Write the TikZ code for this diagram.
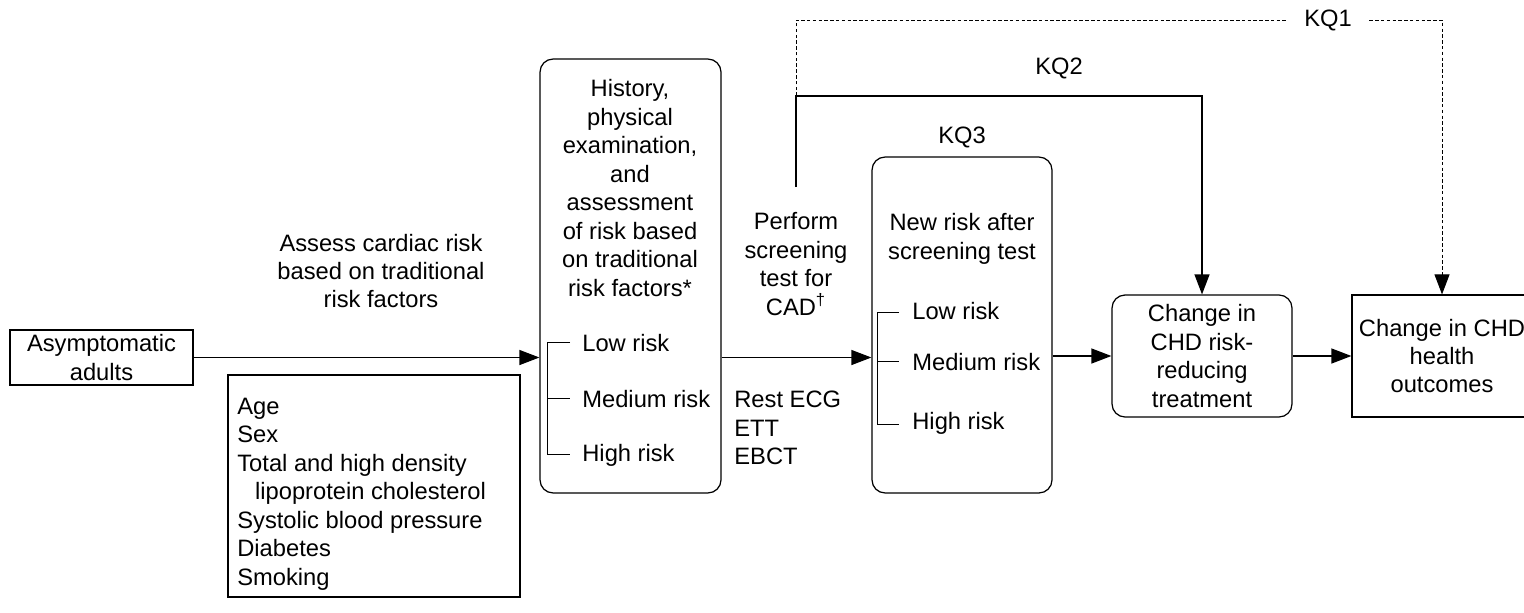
\documentclass[tikz,border=0pt]{standalone}
\usepackage{fontspec}
\setmainfont{Liberation Sans}
\usetikzlibrary{arrows.meta}

\begin{document}
\begin{tikzpicture}[x=0.02cm,y=-0.02cm,
  bx/.style={draw,line width=0.7pt,inner sep=0pt,align=center,font=\fontsize{13.5}{16.2}\selectfont},
  rb/.style={bx,rounded corners=0.26cm},
  tx/.style={align=center,inner sep=0pt,font=\fontsize{13.5}{16.2}\selectfont},
  tl/.style={tx,align=left,anchor=west},
  ar/.style={-{Triangle[length=0.4cm,width=0.3cm]},line width=0.7pt},
  br/.style={line width=0.5pt}]
\clip (0,0) rectangle (1524,612);
% boxes
\node[bx,minimum width=3.66cm,minimum height=1.1cm] (asy) at (101.5,357.5) {Asymptomatic\\adults};
\node[bx,minimum width=5.84cm,minimum height=4.44cm] (rf) at (374,486) {};
\node[tl] (rft) at (237,494) {Age\\Sex\\Total and high density\\\hspace*{0.75em}lipoprotein cholesterol\\Systolic blood pressure\\Diabetes\\Smoking};
\node[rb,minimum width=3.62cm,minimum height=8.68cm] (bx2) at (630.5,276) {};
\node[tx] (hst) at (630,188) {History,\\physical\\examination,\\and\\assessment\\of risk based\\on traditional\\risk factors*};
\node[tl] (lo1) at (582,343) {Low risk};
\node[tl] (md1) at (582,399) {Medium risk};
\node[tl] (hi1) at (582,455) {High risk};
\node[rb,minimum width=3.6cm,minimum height=6.72cm] (bx3) at (962,325) {};
\node[tx] (nrs) at (962,239) {New risk after\\screening test};
\node[tl] (lo2) at (912,311) {Low risk};
\node[tl] (md2) at (912,362) {Medium risk};
\node[tl] (hi2) at (912,423) {High risk};
\node[rb,minimum width=3.6cm,minimum height=2.44cm] (chg) at (1202,356) {Change in\\CHD risk-\\reducing\\treatment};
\node[bx,minimum width=3.6cm,minimum height=2.44cm] (out) at (1442,356) {Change in CHD\\health\\outcomes};
% brackets
\draw[br] (570,342) -| (547,454) -- (570,454); \draw[br] (547,398) -- (570,398);
\draw[br] (899,312) -| (877,424) -- (899,424); \draw[br] (877,361) -- (899,361);
% labels
\node[tx] (asl) at (381,271) {Assess cardiac risk\\based on traditional\\risk factors};
\node[tx] (pst) at (796,264) {Perform\\screening\\test for\\CAD\textsuperscript{†}};
\node[tl] (tst) at (734,428) {Rest ECG\\ETT\\EBCT};
\node[tx] (kq3) at (962,137) {KQ3};
\node[tx] (kq2) at (1059,68) {KQ2};
% arrows
\draw[ar] (asy.east) -- (bx2.west |- asy.east);
\draw[ar] (bx2.east |- asy.east) -- (bx3.west |- asy.east);
\draw[ar] (bx3.east |- chg.west) -- (chg.west);
\draw[ar] (chg.east) -- (out.west);
\coordinate (k0) at (796,187); \coordinate (k2) at (796,96); \coordinate (k1) at (796,20);
\draw[ar] (k0) -- (k2) -| (chg.north);
\draw[ar,line width=0.5pt,dash pattern=on 2pt off 1.3pt] (k2) -- (k1) -| (out.north);
\node[tx,fill=white,inner xsep=0.34cm,inner ysep=2pt] (kq1) at (1328,20) {KQ1};
\end{tikzpicture}
\end{document}
